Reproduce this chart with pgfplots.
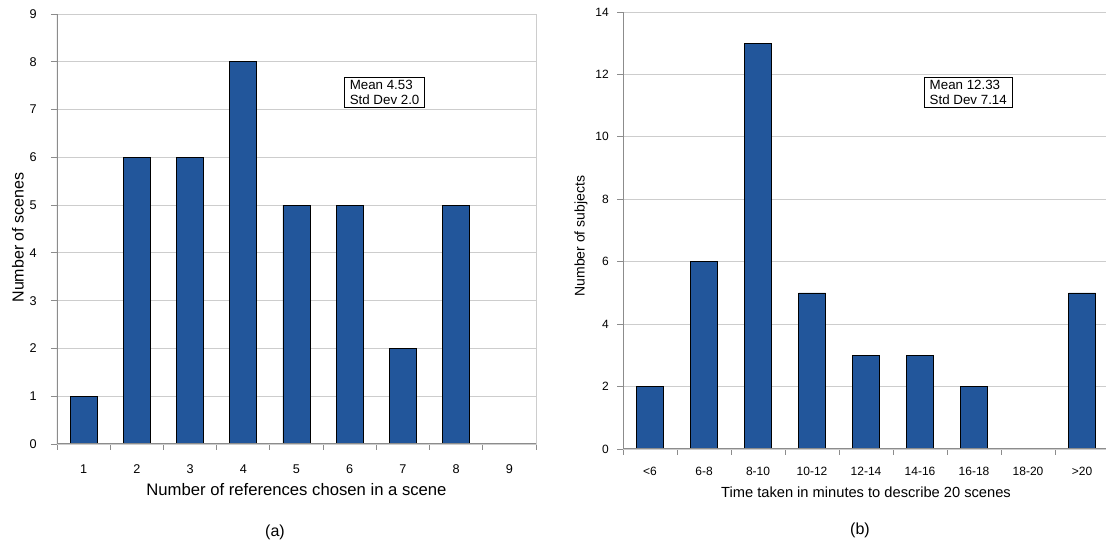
\documentclass[border=0pt]{standalone}
\usepackage{fontspec}
\setmainfont{Liberation Sans}
\usepackage{pgfplots}
\pgfplotsset{compat=1.18}
\definecolor{barblue}{RGB}{34,86,155}
\definecolor{gridgray}{RGB}{205,205,205}
\definecolor{axisgray}{RGB}{140,140,140}
\begin{document}
\begin{tikzpicture}
\useasboundingbox (0,0) rectangle (829.5pt,411pt);
\pgfplotsset{
  common/.style={
    scale only axis, anchor=south west,
    ybar, bar width=20.25pt,
    axis line style={gridgray},
    ymajorgrids, grid style={gridgray, line width=0.6pt},
    tick align=outside, xtick pos=bottom, ytick pos=left,
    major tick length=4.5pt,
    tick style={axisgray, line width=0.7pt},
    x tick label as interval,
    xmin=0.5, xmax=9.5,
    xtick={0.5,1.5,...,9.5},
    ymin=0,
    /pgf/number format/assume math mode=true,
  }
}
% ---------- (a) ----------
\begin{axis}[common,
  at={(42.75pt,78pt)}, width=359.25pt, height=322.5pt,
  ymax=9, ytick={0,...,9},
  tick label style={font=\fontsize{9.5}{11}\selectfont},
  xticklabels={1,2,3,4,5,6,7,8,9},
  xticklabel style={anchor=center, yshift=-14.25pt},
  yticklabel style={anchor=east, inner sep=0pt, xshift=-10.5pt},
  xlabel={Number of references chosen in a scene},
  ylabel={Number of scenes},
  x label style={at={([yshift=-34.5pt]axis description cs:0.5,0)}, anchor=center, font=\fontsize{12.5}{15}\selectfont},
  y label style={at={([xshift=-29.25pt]axis description cs:0,0.48)}, anchor=center, font=\fontsize{12}{14}\selectfont},
]
\addplot[fill=barblue, draw=black, line width=0.5pt] coordinates {(1,1) (2,6) (3,6) (4,8) (5,5) (6,5) (7,2) (8,5)};
\draw[axisgray, line width=0.9pt] (rel axis cs:0,0) -- (rel axis cs:0,1);
\draw[axisgray, line width=0.9pt] (rel axis cs:0,0) -- (rel axis cs:1,0);
\node[draw=black, fill=white, line width=0.6pt, anchor=north west, align=left, inner xsep=4pt, inner ysep=2pt, font=\fontsize{10}{11}\selectfont] at (axis cs:5.893,7.68) {Mean 4.53\\Std Dev 2.0};
\end{axis}
% ---------- (b) ----------
\begin{axis}[common,
  at={(467.25pt,74.25pt)}, width=364.5pt, height=327.75pt,
  ymax=14, ytick={0,2,...,14},
  tick label style={font=\fontsize{9}{10.5}\selectfont},
  xticklabels={<6,6-8,8-10,10-12,12-14,14-16,16-18,18-20,>20},
  xticklabel style={anchor=center, yshift=-12.5pt},
  yticklabel style={anchor=east, inner sep=0pt, xshift=-6pt},
  xlabel={Time taken in minutes to describe 20 scenes},
  ylabel={Number of subjects},
  x label style={at={([yshift=-32.25pt]axis description cs:0.5,0)}, anchor=center, font=\fontsize{11}{13}\selectfont},
  y label style={at={([xshift=-31.5pt]axis description cs:0,0.487)}, anchor=center, font=\fontsize{10.5}{12.5}\selectfont},
]
\addplot[fill=barblue, draw=black, line width=0.5pt] coordinates {(1,2) (2,6) (3,13) (4,5) (5,3) (6,3) (7,2) (9,5)};
\draw[axisgray, line width=0.8pt] (rel axis cs:0,0) -- (rel axis cs:0,1);
\draw[axisgray, line width=0.8pt] (rel axis cs:0,0) -- (rel axis cs:1,0);
\node[draw=black, fill=white, line width=0.6pt, anchor=north west, align=left, inner xsep=4pt, inner ysep=2pt, font=\fontsize{10}{11}\selectfont] at (axis cs:6.074,11.91) {Mean 12.33\\Std Dev 7.14};
\end{axis}
\node[font=\fontsize{12}{14}\selectfont] at (206.25pt,12pt) {(a)};
\node[font=\fontsize{12}{14}\selectfont] at (645pt,13.5pt) {(b)};
\end{tikzpicture}
\end{document}
